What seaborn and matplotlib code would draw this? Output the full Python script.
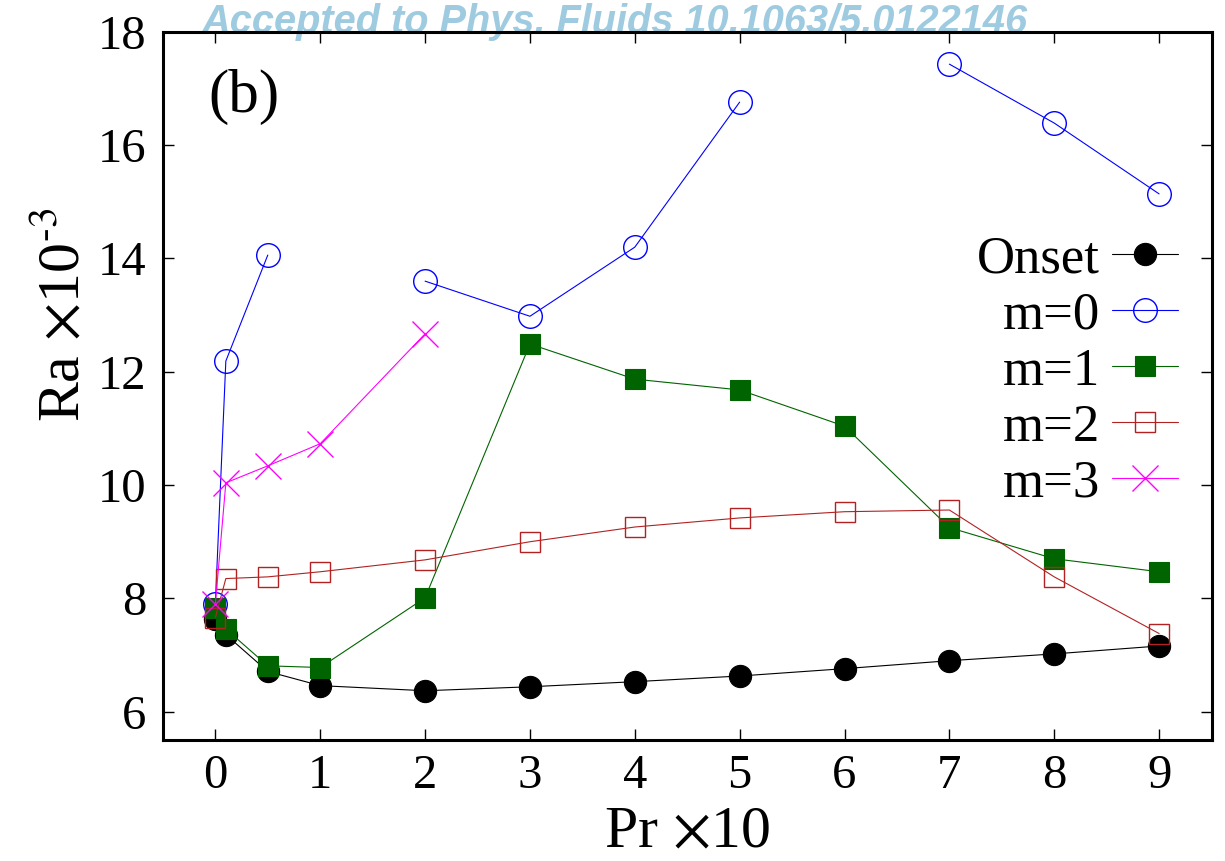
import matplotlib
matplotlib.use("Agg")
import matplotlib.pyplot as plt
import seaborn as sns
import pandas as pd
from matplotlib.lines import Line2D

# ---------------- data ----------------
pr_all = [0, 0.1, 0.5, 1, 2, 3, 4, 5, 6, 7, 8, 9]
onset = [7.64, 7.36, 6.71, 6.46, 6.37, 6.44, 6.53, 6.63, 6.76, 6.90, 7.02, 7.16]

m0_pr = [0, 0.1, 0.5, 2, 3, 4, 5, 7, 8, 9]
m0_ra = [7.90, 12.19, 14.06, 13.60, 12.98, 14.20, 16.76, 17.43, 16.39, 15.14]
m0_seg = [0, 0, 0, 1, 1, 1, 1, 2, 2, 2]

m1_ra = [7.83, 7.46, 6.81, 6.78, 8.01, 12.49, 11.87, 11.68, 11.04, 9.25, 8.70, 8.47]
m2_ra = [7.66, 8.35, 8.38, 8.47, 8.68, 9.00, 9.26, 9.42, 9.53, 9.56, 8.38, 7.38]

m3_pr = [0, 0.1, 0.5, 1, 2]
m3_ra = [7.90, 10.04, 10.34, 10.73, 12.67]

labels = ["Onset", "m=0", "m=1", "m=2", "m=3"]
x_ticks = [0, 1, 2, 3, 4, 5, 6, 7, 8, 9]
y_ticks = [6, 8, 10, 12, 14, 16, 18]

# ---------------- style ----------------
sns.set_style("ticks")
plt.rcParams["font.family"] = ["Liberation Serif", "DejaVu Serif"]
plt.rcParams["mathtext.fontset"] = "stix"
for k in ["text.color", "axes.labelcolor", "xtick.color", "ytick.color", "axes.edgecolor"]:
    plt.rcParams[k] = "black"

styles = [
    dict(color="black", marker="o", markersize=16, mfc="black", mec="black", mew=0.8),
    dict(color="#0000ff", marker="o", markersize=17, mfc="none", mec="#0000ff", mew=1.0),
    dict(color="#006400", marker="s", markersize=14.5, mfc="#006400", mec="#006400", mew=0.8),
    dict(color="#b22222", marker="s", markersize=14, mfc="none", mec="#b22222", mew=1.0),
    dict(color="#ff00ff", marker="x", markersize=19, mfc="none", mec="#ff00ff", mew=1.0),
]

fig = plt.figure(figsize=(12.25, 8.61), dpi=100)
ax = fig.add_axes([0.133, 0.1405, 0.856, 0.8225])
ax.set_facecolor("none")

frames = [
    pd.DataFrame({"x": pr_all, "y": onset, "seg": 0}),
    pd.DataFrame({"x": m0_pr, "y": m0_ra, "seg": m0_seg}),
    pd.DataFrame({"x": pr_all, "y": m1_ra, "seg": 0}),
    pd.DataFrame({"x": pr_all, "y": m2_ra, "seg": 0}),
    pd.DataFrame({"x": m3_pr, "y": m3_ra, "seg": 0}),
]

for df, st in zip(frames, styles):
    sns.lineplot(data=df, x="x", y="y", units="seg", estimator=None, sort=False,
                 ax=ax, legend=False, lw=0.8, **st)

handles = [Line2D([], [], lw=0.8, **st) for st in styles]
ax.legend(handles, labels, loc="upper right", bbox_to_anchor=(0.968, 0.712),
          markerfirst=False, frameon=False, fontsize=38, handlelength=1.25,
          labelspacing=0.15, handletextpad=0.23, borderpad=0, borderaxespad=0)

ax.set_xlim(-0.5, 9.5)
ax.set_ylim(5.5, 18)
ax.set_xticks(x_ticks)
ax.set_yticks(y_ticks)
ax.tick_params(direction="in", length=8, width=1, labelsize=35,
               top=True, right=True, pad=10)
ax.tick_params(axis="y", pad=12)
for sp in ax.spines.values():
    sp.set_linewidth(2.2)
    sp.set_color("black")

ax.set_xlabel(r"Pr $\times$10", fontsize=43, labelpad=6)
ax.set_ylabel(r"Ra $\times$10$^{\text{-3}}$", fontsize=43)
ax.yaxis.set_label_coords(-0.067, 0.60)

ax.text(0.043, 0.887, "(b)", transform=ax.transAxes, fontsize=44, va="baseline")

fig.text(0.502, 0.975, "Accepted to Phys. Fluids 10.1063/5.0122146",
         ha="center", va="center", color="#9ecbe0", fontsize=28.6,
         fontweight="bold", style="italic", family="Liberation Sans", zorder=-1)

fig.savefig("out.png", dpi=100)
